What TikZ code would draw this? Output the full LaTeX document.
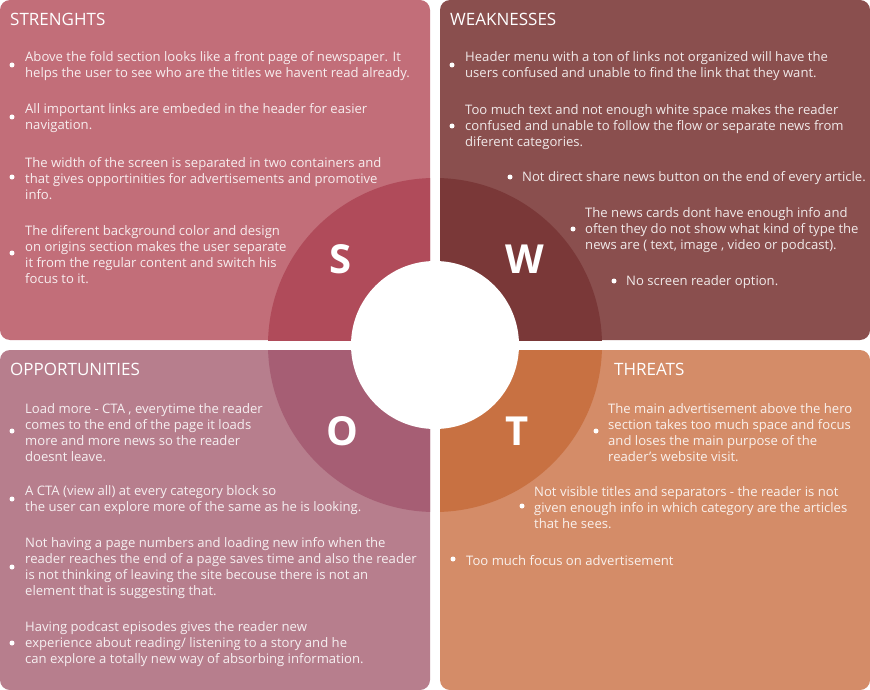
\documentclass[tikz,border=0pt]{standalone}
\usepackage{fontspec}
\setmainfont{Open Sans}
\definecolor{spanel}{RGB}{194,110,121}
\definecolor{ssec}{RGB}{176,75,90}
\definecolor{wpanel}{RGB}{138,79,78}
\definecolor{wsec}{RGB}{122,56,56}
\definecolor{opanel}{RGB}{183,126,141}
\definecolor{osec}{RGB}{166,94,116}
\definecolor{tpanel}{RGB}{212,140,104}
\definecolor{tsec}{RGB}{200,113,66}
\tikzset{
  panel/.style={rounded corners=10pt},
  ttl/.style={anchor=west, inner sep=0pt, font=\fontsize{17}{20}\selectfont, text=white},
  item/.style={anchor=west, inner sep=0pt, yshift=-1.5pt, align=left, font=\fontsize{13.1}{16}\selectfont, text=white, text opacity=0.88},
  dot/.style={circle, fill=white, inner sep=0pt, minimum size=5pt},
  letter/.style={font=\fontsize{40}{40}\selectfont\bfseries, text=white, inner sep=0pt}
}
\begin{document}
\begin{tikzpicture}[x=1pt,y=-1pt]
\useasboundingbox (0,0) rectangle (870,690);
\fill[white] (0,0) rectangle (870,690);
% panels
\fill[spanel,panel] (0,0) rectangle (430,340);
\fill[wpanel,panel] (440,0) rectangle (870,340);
\fill[opanel,panel] (0,350) rectangle (430,690);
\fill[tpanel,panel] (440,350) rectangle (870,690);
% sectors
\begin{scope}\clip (0,0) rectangle (430,340); \fill[ssec] (435,345) circle (167); \end{scope}
\begin{scope}\clip (440,0) rectangle (870,340); \fill[wsec] (435,345) circle (167); \end{scope}
\begin{scope}\clip (0,350) rectangle (430,690); \fill[osec] (435,345) circle (167); \end{scope}
\begin{scope}\clip (440,350) rectangle (870,690); \fill[tsec] (435,345) circle (167); \end{scope}
\node[circle, fill=white, minimum size=168pt, inner sep=0pt] (hub) at (435,345) {};
% letters
\node[letter] (S) at (341,259) {S};
\node[letter] (W) at (525,259) {W};
\node[letter] (O) at (342,431) {O};
\node[letter] (T) at (517,431) {T};
% titles
\node[ttl] (st) at (10,19.5) {STRENGHTS};
\node[ttl] (wt) at (450,19.5) {WEAKNESSES};
\node[ttl] (ot) at (10,369.5) {OPPORTUNITIES};
\node[ttl] (tt) at (614,369.5) {THREATS};
% strengths
\node[dot] (sd1) at (12,65) {};
\node[item] (s1) at (25,65) {Above the fold section looks like a front page of newspaper. It\\helps the user to see who are the titles we havent read already.};
\node[dot] (sd2) at (12,117) {};
\node[item] (s2) at (25,117) {All important links are embeded in the header for easier\\navigation.};
\node[dot] (sd3) at (12,177) {};
\node[item] (s3) at (25,177) {The width of the screen is separated in two containers and\\that gives opportinities for advertisements and promotive\\info.};
\node[dot] (sd4) at (12,253) {};
\node[item] (s4) at (25,253) {The diferent background color and design\\on origins section makes the user separate\\it from the regular content and switch his\\focus to it.};
% weaknesses
\node[dot] (wd1) at (452,65) {};
\node[item] (w1) at (465,65) {Header menu with a ton of links not organized will have the\\users confused and unable to find the link that they want.};
\node[dot] (wd2) at (452,126) {};
\node[item] (w2) at (465,126) {Too much text and not enough white space makes the reader\\confused and unable to follow the flow or separate news from\\diferent categories.};
\node[dot] (wd3) at (510,177) {};
\node[item] (w3) at (522,177) {Not direct share news button on the end of every article.};
\node[dot] (wd4) at (573,229) {};
\node[item] (w4) at (585,229) {The news cards dont have enough info and\\often they do not show what kind of type the\\news are ( text, image , video or podcast).};
\node[dot] (wd5) at (614,281) {};
\node[item] (w5) at (626,281) {No screen reader option.};
% opportunities
\node[dot] (od1) at (12,431) {};
\node[item] (o1) at (25,431) {Load more - CTA , everytime the reader\\comes to the end of the page it loads\\more and more news so the reader\\doesnt leave.};
\node[dot] (od2) at (12,499) {};
\node[item] (o2) at (25,499) {A CTA (view all) at every category block so\\the user can explore more of the same as he is looking.};
\node[dot] (od3) at (12,567) {};
\node[item] (o3) at (25,567) {Not having a page numbers and loading new info when the\\reader reaches the end of a page saves time and also the reader\\is not thinking of leaving the site becouse there is not an\\element that is suggesting that.};
\node[dot] (od4) at (12,643) {};
\node[item] (o4) at (25,643) {Having podcast episodes gives the reader new\\experience about reading/ listening to a story and he\\can explore a totally new way of absorbing information.};
% threats
\node[dot] (td1) at (596,431) {};
\node[item] (t1) at (608,431) {The main advertisement above the hero\\section takes too much space and focus\\and loses the main purpose of the\\reader's website visit.};
\node[dot] (td2) at (522,506) {};
\node[item] (t2) at (534,506) {Not visible titles and separators - the reader is not\\given enough info in which category are the articles\\that he sees.};
\node[dot] (td3) at (453,559) {};
\node[item] (t3) at (466,559) {Too much focus on advertisement};
\end{tikzpicture}
\end{document}
